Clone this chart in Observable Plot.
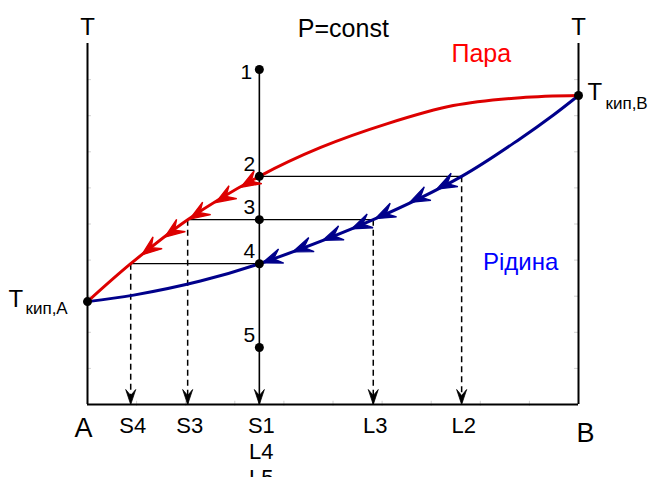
<!DOCTYPE html>
<html><head><meta charset="utf-8">
<script src="https://cdn.jsdelivr.net/npm/d3@7"></script>
<script src="https://cdn.jsdelivr.net/npm/@observablehq/plot@0.6"></script>
<style>html,body{margin:0;padding:0;background:#fff;overflow:hidden}</style>
</head><body><div id="chart"></div>
<script>
// ---- data (composition x in [0,1], temperature T in [0,1]) ----
const overallX = 0.35;
const pointLabels = ["1", "2", "3", "4", "5"];
const pointT = [0.928, 0.632, 0.512, 0.39, 0.158];
const tieT = [0.632, 0.512, 0.39];
const vaporX = [0.35, 0.204, 0.088];   // S1, S3, S4
const liquidX = [0.762, 0.582, 0.35];  // L2, L3, L4
const vaporCurveX = [0, 0.088, 0.204, 0.35, 0.475, 0.611, 0.745, 0.882, 1];
const vaporCurveT = [0.285, 0.39, 0.512, 0.632, 0.712, 0.778, 0.828, 0.850, 0.856];
const liquidCurveX = [0, 0.094, 0.23, 0.35, 0.582, 0.762, 0.882, 0.949, 1];
const liquidCurveT = [0.285, 0.303, 0.342, 0.39, 0.512, 0.632, 0.737, 0.802, 0.856];
const vaporArrowX = [0.35, 0.314, 0.263, 0.210, 0.159, 0.112];
const vaporArrowT = [0.632, 0.603, 0.561, 0.515, 0.465, 0.416];
const liquidArrowX = [0.762, 0.713, 0.658, 0.588, 0.540, 0.481, 0.420, 0.358];
const liquidArrowT = [0.632, 0.598, 0.561, 0.516, 0.488, 0.456, 0.424, 0.393];
const dropX = [0.088, 0.204, 0.35, 0.582, 0.762];
const dropTopT = [0.39, 0.512, 0.928, 0.512, 0.632];
const tickLabels = ["S4", "S3", "S1\nL4\nL5", "L3", "L2"];
const axisTicks = [0.1, 0.2, 0.3, 0.4, 0.5, 0.6, 0.7, 0.8, 0.9];
const boilT = [0.285, 0.856];
const boilX = [0, 1];

// ---- layout ----
const W = 648, H = 477, mL = 87, mR = 70, mT = 43, mB = 73;
const plotW = W - mL - mR, plotH = H - mT - mB;
const RED = "#dd0000", NAVY = "#00008b";

const vaporCurve = vaporCurveX.map((x, i) => ({x, t: vaporCurveT[i]}));
const liquidCurve = liquidCurveX.map((x, i) => ({x, t: liquidCurveT[i]}));
const points = pointT.map((t, i) => ({x: overallX, t, label: pointLabels[i]}));
const ties = tieT.map((t, i) => ({x1: vaporX[i], x2: liquidX[i], t}));
const dashed = dropX.map((x, i) => ({x, t: dropTopT[i]})).filter(d => d.x !== overallX);
const heads = dropX.map((x, i) => ({x, t: 0, angle: 90, label: tickLabels[i]}));
function arrowData(xs, ts) {
  return xs.slice(1).map((x, i) => ({
    x, t: ts[i + 1],
    angle: Math.atan2(-(ts[i + 1] - ts[i]) * plotH, (x - xs[i]) * plotW) * 180 / Math.PI
  }));
}
const vaporArrows = arrowData(vaporArrowX, vaporArrowT);
const liquidArrows = arrowData(liquidArrowX, liquidArrowT);

const barbBig = {draw(c) { c.moveTo(1, 0); c.lineTo(-19, -7.5); c.lineTo(-11, 0); c.lineTo(-19, 7.5); c.closePath(); }};
const barbSmall = {draw(c) { c.moveTo(0, 0); c.lineTo(-15, -5); c.lineTo(-9, 0); c.lineTo(-15, 5); c.closePath(); }};

const font = "Liberation Sans, Arial, Helvetica, sans-serif";

const chart = Plot.plot({
  width: W, height: H,
  marginLeft: mL, marginRight: mR, marginTop: mT, marginBottom: mB,
  x: {domain: [0, 1], axis: null},
  y: {domain: [0, 1], axis: null},
  style: {fontFamily: font, background: "white", color: "black"},
  marks: [
    // faint ticks
    Plot.ruleY(axisTicks, {x1: 0, x2: 0.008, stroke: "#d0d0d0", strokeWidth: 1}),
    Plot.ruleY(axisTicks, {x1: 0.992, x2: 1, stroke: "#d0d0d0", strokeWidth: 1}),
    Plot.ruleX(axisTicks, {y1: -0.005, y2: 0.009, stroke: "#d0d0d0", strokeWidth: 1}),
    // axes
    Plot.ruleX(boilX, {y1: 0, y2: 1, stroke: "black", strokeWidth: 2}),
    Plot.ruleY([0], {x1: 0, x2: 1, stroke: "black", strokeWidth: 2}),
    // dashed drops
    Plot.link(dashed, {x1: "x", x2: "x", y1: "t", y2: 0, stroke: "black", strokeWidth: 1.5, strokeDasharray: "6,4"}),
    // main vertical
    Plot.link(points.slice(0, 1), {x1: "x", x2: "x", y1: "t", y2: 0, stroke: "black", strokeWidth: 1.6}),
    // tie lines
    Plot.link(ties, {x1: "x1", x2: "x2", y1: "t", y2: "t", stroke: "black", strokeWidth: 1.2}),
    // curves
    Plot.line(liquidCurve, {x: "x", y: "t", stroke: NAVY, strokeWidth: 3, curve: "catmull-rom"}),
    Plot.line(vaporCurve, {x: "x", y: "t", stroke: RED, strokeWidth: 3, curve: "catmull-rom"}),
    // arrowheads on curves
    Plot.dot(vaporArrows, {x: "x", y: "t", symbol: barbBig, rotate: "angle", fill: RED, stroke: RED, strokeWidth: 1.3, strokeLinejoin: "miter"}),
    Plot.dot(liquidArrows, {x: "x", y: "t", symbol: barbBig, rotate: "angle", fill: NAVY, stroke: NAVY, strokeWidth: 1.3, strokeLinejoin: "miter"}),
    // arrowheads on drops
    Plot.dot(heads, {x: "x", y: "t", symbol: barbSmall, rotate: "angle", fill: "black", stroke: "black", strokeWidth: 0.8}),
    // points
    Plot.dot(points, {x: "x", y: "t", r: 4.5, fill: "black"}),
    Plot.dot(boilX.map((x, i) => ({x, t: boilT[i]})), {x: "x", y: "t", r: 4.5, fill: "black"}),
    // point labels
    Plot.text(points.slice(0, 1), {x: "x", y: "t", text: "label", dx: -13, dy: 3, fontSize: 21, fill: "black"}),
    Plot.text(points.slice(1), {x: "x", y: "t", text: "label", dx: -10, dy: -12, fontSize: 21, fill: "black"}),
    // tick labels
    Plot.text(heads, {x: "x", y: "t", text: "label", dy: 10, dx: 2, lineAnchor: "top", lineHeight: 1.18, fontSize: 22, fill: "black"}),
    // A, B
    Plot.text(["A"], {x: 0, y: 0, text: d => d, dx: -4, dy: 24, fontSize: 27, fill: "black"}),
    Plot.text(["B"], {x: 1, y: 0, text: d => d, dx: 7, dy: 29, fontSize: 27, fill: "black"}),
    // T labels on axes
    Plot.text(["T", "T"], {x: (d, i) => boilX[i], y: 1, text: d => d, dy: -16, fontSize: 24, fill: "black"}),
    // title-like annotation
    Plot.text(["P=const"], {x: 0.521, y: 1, text: d => d, dy: -15, fontSize: 25, fill: "black"}),
    Plot.text(["Пара"], {x: 0.802, y: 0.97, text: d => d, fontSize: 25, fill: "#ff0000"}),
    Plot.text(["Рідина"], {x: 0.882, y: 0.393, text: d => d, fontSize: 24, fill: "#0000ff"}),
    // boiling point labels
    Plot.text(["T"], {x: 0, y: boilT[0], text: d => d, textAnchor: "start", dx: -79, dy: -2, fontSize: 24, fill: "black"}),
    Plot.text(["кип,A"], {x: 0, y: boilT[0], text: d => d, textAnchor: "start", dx: -62, dy: 7, fontSize: 17, fill: "black"}),
    Plot.text(["T"], {x: 1, y: boilT[1], text: d => d, textAnchor: "start", dx: 9, dy: -3, fontSize: 24, fill: "black"}),
    Plot.text(["кип,B"], {x: 1, y: boilT[1], text: d => d, textAnchor: "start", dx: 27, dy: 8, fontSize: 17, fill: "black"})
  ]
});
document.getElementById("chart").appendChild(chart);
</script>
</body></html>
